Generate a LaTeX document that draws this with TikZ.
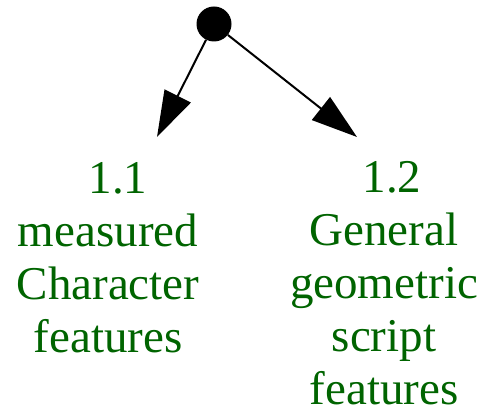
\documentclass[tikz,border=0pt]{standalone}
\usepackage{fontspec}
\setmainfont{Liberation Serif}
\usetikzlibrary{arrows.meta,positioning}
\definecolor{labelgreen}{HTML}{006400}

\begin{document}
\begin{tikzpicture}[x=1pt,y=1pt,>={Triangle[length=46pt,width=29pt]},
        dot node/.style={circle,fill=black,minimum size=35pt,inner sep=0pt},
        label node/.style={align=center,text=labelgreen,inner sep=0pt,
        font=\fontsize{47}{53}\selectfont}]
        \useasboundingbox (0,0) rectangle (479,420);
        \node[dot node] (root) at (214,396) {};
        \coordinate (tip1) at (157,283);
        \coordinate (tip2) at (357,283);
        \node[label node,anchor=base] (measured) at (108,67) {\hspace*{20pt}1.1\\measured\\Character\\features};
        \node[label node,anchor=base] (geometric) at (384,15) {\hspace*{16pt}1.2\\General\\geometric\\script\\features};
        \path[->,line width=2pt]
        (root) edge (tip1)
        (root) edge (tip2)
        ;
\end{tikzpicture}
\end{document}
